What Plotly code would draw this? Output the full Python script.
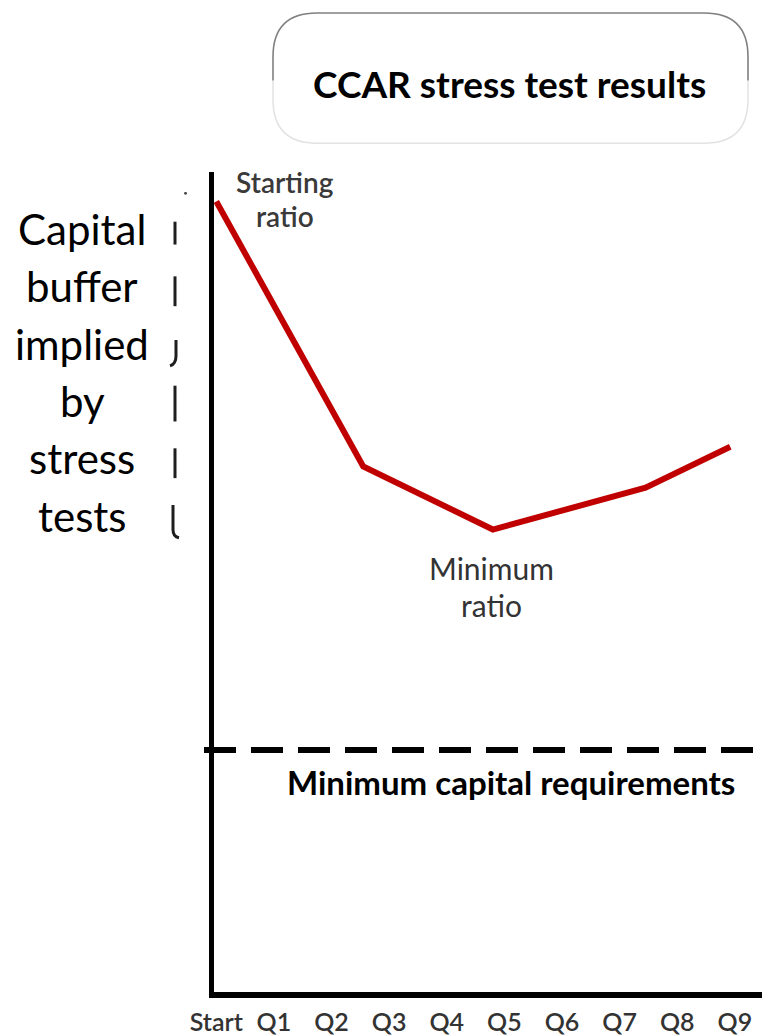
import plotly.graph_objects as go

# ---------------- data ----------------
tick_labels = ["Start", "Q1", "Q2", "Q3", "Q4", "Q5", "Q6", "Q7", "Q8", "Q9"]
tick_positions = [0, 1, 2, 3, 4, 5, 6, 7, 8, 9]
path_x = [0.0, 2.55, 4.8, 7.45, 8.92]         # quarter position of each vertex
path_ratio = [96.4, 64.1, 56.4, 61.5, 66.5]    # capital ratio (arbitrary units)
min_capital = 29.5                             # minimum capital requirement level
left_text_lines = ["Capital", "buffer", "implied", "by", "stress", "tests"]

# ---------------- layout geometry (page pixels) ----------------
OFF = 8                      # page body margin
W, H = 770 - OFF, 1036 - OFF
PL, PR, PT, PB = 214, 770, 172, 997   # plot area in page pixels


def fx(px):
    return (px - PL) / (PR - PL)


def fy(py):
    return (PB - py) / (PB - PT)


FONT = "Lato"

fig = go.Figure()
fig.add_trace(go.Scatter(
    x=path_x, y=path_ratio, mode="lines",
    line=dict(color="#C00000", width=6),
    hoverinfo="skip", showlegend=False, cliponaxis=False,
))

shapes = []
# minimum capital dashed line
shapes.append(dict(type="line", xref="paper", yref="y",
                   x0=fx(204), x1=fx(772), y0=min_capital, y1=min_capital,
                   line=dict(color="black", width=6, dash="32px,15px"), layer="below"))

# title rounded box
x0, x1, y0, y1, r = 273, 748, 12, 143, 44


def P(px, py):
    return f"{fx(px):.5f},{fy(py):.5f}"


top_path = (f"M {P(x0, 80)} L {P(x0, y0 + r)} Q {P(x0, y0)} {P(x0 + r, y0)} "
            f"L {P(x1 - r, y0)} Q {P(x1, y0)} {P(x1, y0 + r)} L {P(x1, 80)}")
bot_path = (f"M {P(x0, 80)} L {P(x0, y1 - r)} Q {P(x0, y1)} {P(x0 + r, y1)} "
            f"L {P(x1 - r, y1)} Q {P(x1, y1)} {P(x1, y1 - r)} L {P(x1, 80)}")
shapes.append(dict(type="path", xref="paper", yref="paper", path=bot_path,
                   line=dict(color="#e2e2e2", width=1.5)))
shapes.append(dict(type="path", xref="paper", yref="paper", path=top_path,
                   line=dict(color="#808080", width=1.6)))

# bracket beside left text
br = "#1e1e1e"
segs = [
    f"M {P(175, 222)} L {P(175, 245)}",
    f"M {P(175, 277)} L {P(175, 307)}",
    f"M {P(176, 341)} L {P(176, 357)} Q {P(176, 365)} {P(170, 367)}",
    f"M {P(175, 387)} L {P(175, 423)}",
    f"M {P(175, 450)} L {P(175, 480)}",
    f"M {P(173, 507)} L {P(173, 532)} Q {P(173, 539)} {P(179, 540)}",
]
for s in segs:
    shapes.append(dict(type="path", xref="paper", yref="paper", path=s,
                       line=dict(color=br, width=3)))
shapes.append(dict(type="circle", xref="paper", yref="paper",
                   x0=fx(184), x1=fx(187), y0=fy(195), y1=fy(192),
                   fillcolor="#444", line=dict(width=0)))


def label(text, px, py, size, color="black", weight=400):
    return dict(text=text, xref="paper", yref="paper", x=fx(px), y=fy(py),
                xanchor="center", yanchor="middle", showarrow=False,
                font=dict(family=FONT, size=size, color=color, weight=weight))


annotations = [
    label("CCAR stress test results", 509, 83, 37, weight=700),
    label("Minimum capital requirements", 511, 786, 33, weight=700),
    label("Starting", 285, 182, 28, "#3a3a3a", 600),
    label("ratio", 285, 216, 28, "#3a3a3a", 600),
    label("Minimum", 491, 570, 30, "#333333"),
    label("ratio", 491, 608, 30, "#333333"),
]
for k, t in enumerate(left_text_lines):
    annotations.append(label(t, 82, 229 + 57.8 * k, 42))

fig.update_layout(
    width=W, height=H,
    margin=dict(l=PL - OFF, r=770 - PR, t=PT - OFF, b=1036 - PB, pad=0),
    paper_bgcolor="white", plot_bgcolor="white",
    showlegend=False,
    shapes=shapes, annotations=annotations,
    xaxis=dict(range=[-0.04, 9.61], showgrid=False, zeroline=False,
               showline=True, linewidth=6, linecolor="black",
               tickmode="array", tickvals=tick_positions, ticktext=tick_labels,
               ticks="", ticklabelstandoff=3,
               tickfont=dict(family=FONT, size=25, color="#333333", weight=600),
               fixedrange=True),
    yaxis=dict(range=[0, 100], showgrid=False, zeroline=False,
               showline=True, linewidth=5, linecolor="black",
               showticklabels=False, ticks="", fixedrange=True),
)

fig.write_html("out.html", config={"displayModeBar": False})
